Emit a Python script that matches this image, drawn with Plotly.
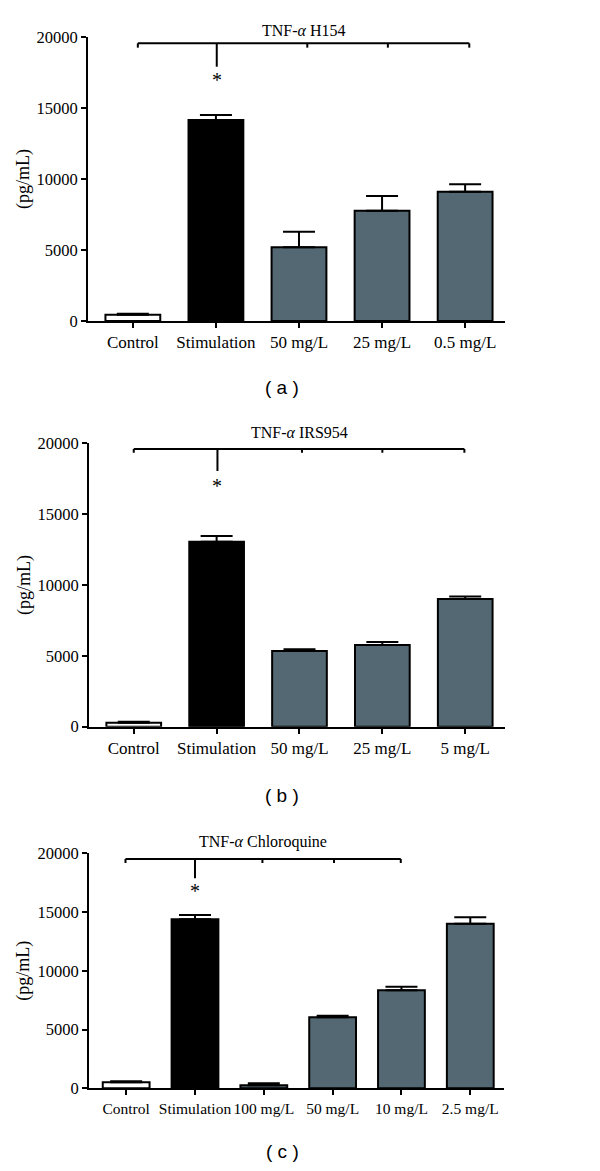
import plotly.graph_objects as go

# ---------------- data ----------------
cats_a = ["Control", "Stimulation", "50 mg/L", "25 mg/L", "0.5 mg/L"]
vals_a = [440, 14150, 5190, 7770, 9100]
errtop_a = [510, 14500, 6290, 8800, 9630]

cats_b = ["Control", "Stimulation", "50 mg/L", "25 mg/L", "5 mg/L"]
vals_b = [280, 13060, 5340, 5770, 9020]
errtop_b = [350, 13460, 5460, 5980, 9180]

cats_c = ["Control", "Stimulation", "100 mg/L", "50 mg/L", "10 mg/L", "2.5 mg/L"]
vals_c = [510, 14380, 255, 6040, 8340, 14010]
errtop_c = [600, 14750, 425, 6180, 8650, 14550]

titles = ["TNF-<i>α</i> H154", "TNF-<i>α</i> IRS954", "TNF-<i>α</i> Chloroquine"]
panel_labels = ["( a )", "( b )", "( c )"]
y_title = "(pg/mL)"
y_ticks = [0, 5000, 10000, 15000, 20000]

# significance brackets
br_ends = [[0.06, 4.05], [0.0, 3.99], [-0.01, 3.99]]
br_inner = [[2.1, 3.07], [2.03, 3.0], [1.98, 3.02]]
br_stim = [1.01, 1.01, 1.0]
br_level = [19556, 19605, 19515]
br_enddrop = [19250, 19330, 19180]
br_stimdrop = [17908, 18047, 17872]
star_y = [16950, 16990, 16800]

# ---------------- style ----------------
GRAY = "#536872"
SERIF = "Liberation Serif"
OFF = 8                      # page body margin in the browser
W, H = 600 - 2 * OFF, 1171 - 2 * OFF


def px(x):
    return (x - OFF) / W


def py(y):
    return 1 - (y - OFF) / H


panels = [
    dict(cats=cats_a, vals=vals_a, err=errtop_a, xd=(88, 505), yd=(321, 37), xr=[-0.54, 4.48], bw=0.66, fs=17),
    dict(cats=cats_b, vals=vals_b, err=errtop_b, xd=(89, 505), yd=(726.7, 443.3), xr=[-0.54, 4.48], bw=0.66, fs=17),
    dict(cats=cats_c, vals=vals_c, err=errtop_c, xd=(89, 504), yd=(1088.3, 853.3), xr=[-0.54, 5.49], bw=0.68, fs=15.5),
]
label_py = [388, 795, 1151]
title_py = [31, 433, 841.7]

fig = go.Figure()
shapes = []
annotations = []

for i, p in enumerate(panels):
    xa = "x" if i == 0 else f"x{i+1}"
    ya = "y" if i == 0 else f"y{i+1}"
    colors = ["white", "black"] + [GRAY] * (len(p["cats"]) - 2)
    fig.add_trace(go.Bar(
        x=p["cats"], y=p["vals"], width=p["bw"],
        marker=dict(color=colors, line=dict(color="black", width=2)),
        error_y=dict(type="data", symmetric=False,
                     array=[e - v for e, v in zip(p["err"], p["vals"])],
                     arrayminus=[0] * len(p["vals"]),
                     color="black", thickness=2, width=16),
        xaxis=xa, yaxis=ya, showlegend=False,
    ))
    xk = "xaxis" if i == 0 else f"xaxis{i+1}"
    yk = "yaxis" if i == 0 else f"yaxis{i+1}"
    fig.update_layout(**{
        xk: dict(domain=[px(p["xd"][0]), px(p["xd"][1])], anchor=ya, type="category",
                 range=p["xr"], showline=True, linewidth=2, linecolor="black",
                 ticks="outside", ticklen=5, tickwidth=2, tickcolor="black", tickangle=0,
                 tickfont=dict(family=SERIF, size=p["fs"], color="black"),
                 showgrid=False, zeroline=False, automargin=False, fixedrange=True),
        yk: dict(domain=[py(p["yd"][0]), py(p["yd"][1])], anchor=xa,
                 range=[0, 20000], tickvals=y_ticks, ticktext=[str(t) for t in y_ticks],
                 showline=True, linewidth=2, linecolor="black",
                 ticks="outside", ticklen=5, tickwidth=2, tickcolor="black",
                 tickfont=dict(family=SERIF, size=16.5, color="black"),
                 showgrid=False, zeroline=False, automargin=False, fixedrange=True),
    })
    line = dict(color="black", width=2)
    x0, x1 = br_ends[i]
    shapes.append(dict(type="line", xref=xa, yref=ya, x0=x0, x1=x1,
                       y0=br_level[i], y1=br_level[i], line=line))
    for xe in [x0, x1] + br_inner[i]:
        shapes.append(dict(type="line", xref=xa, yref=ya, x0=xe, x1=xe,
                           y0=br_level[i], y1=br_enddrop[i], line=line))
    shapes.append(dict(type="line", xref=xa, yref=ya, x0=br_stim[i], x1=br_stim[i],
                       y0=br_level[i], y1=br_stimdrop[i], line=line))
    annotations.append(dict(text="*", xref=xa, yref=ya, x=br_stim[i], y=star_y[i],
                            showarrow=False, yanchor="middle",
                            font=dict(family=SERIF, size=20, color="black")))
    tx = (x0 + x1) / 2
    annotations.append(dict(text=titles[i], xref=xa, yref="paper", x=tx,
                            y=py(title_py[i]), yanchor="middle", showarrow=False,
                            font=dict(family=SERIF, size=16, color="black")))
    annotations.append(dict(text=y_title, xref="paper", yref=ya, x=px(24), y=10000,
                            textangle=-90, xanchor="center", yanchor="middle",
                            showarrow=False,
                            font=dict(family=SERIF, size=18, color="black")))
    annotations.append(dict(text=panel_labels[i], xref="paper", yref="paper",
                            x=px(282), y=py(label_py[i]), yanchor="middle",
                            showarrow=False,
                            font=dict(family="Liberation Sans", size=19, color="black")))

fig.update_layout(width=W, height=H, margin=dict(l=0, r=0, t=0, b=0),
                  plot_bgcolor="white", paper_bgcolor="white",
                  shapes=shapes, annotations=annotations, bargap=0.3)
fig.write_html("out.html")
